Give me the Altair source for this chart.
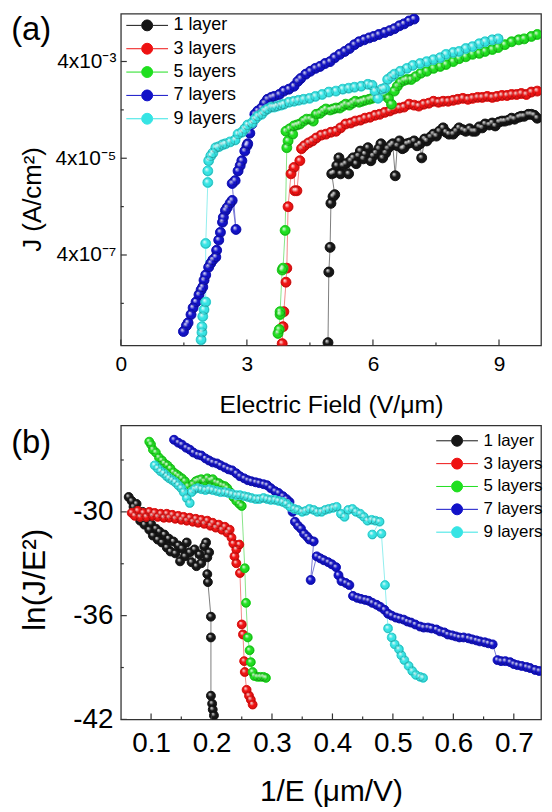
import altair as alt
import pandas as pd

FONT = "Liberation Sans"
SERIES = ["1 layer", "3 layers", "5 layers", "7 layers", "9 layers"]
BALL = ["#161616", "#ee1212", "#1fdf1f", "#1212c8", "#36e4e4"]
LINE = ["#6e6e6e", "#f07a7a", "#7ae27a", "#6a6ad0", "#86ecec"]
PANEL_LABELS = ["(a)", "(b)"]

# ---------------- panel (a): E (V/um) vs log10 J (A/cm2) ----------------
E1a = [4.93,4.95,4.98,5.00,5.05,5.09,5.02,5.07,5.14,5.19,5.23,5.28,5.35,5.42,5.47,5.53,5.60,5.65,5.70,5.77,5.81,5.88,5.95,6.00,6.07,6.14,6.19,6.23,6.30,6.35,6.42,6.47,6.53,6.58,6.63,6.70,6.74,6.81,6.88,6.98,7.05,7.12,7.16,7.23,7.28,7.37,7.44,7.51,7.58,7.67,7.74,7.81,7.91,7.98,8.05,8.14,8.21,8.30,8.37,8.44,8.53,8.60,8.67,8.77,8.84,8.91,9.00,9.07,9.14,9.23,9.30,9.37,9.47,9.53,9.60,9.70,9.77,9.84,9.91]
logJ1a = [-8.21,-6.75,-6.24,-5.33,-5.19,-5.15,-4.72,-4.70,-4.55,-4.39,-4.72,-4.55,-4.51,-4.72,-4.45,-4.39,-4.51,-4.35,-4.25,-4.41,-4.31,-4.18,-4.45,-4.35,-4.29,-4.20,-4.10,-4.39,-4.29,-4.20,-4.14,-4.10,-4.76,-4.14,-4.04,-4.20,-4.18,-4.10,-4.08,-4.04,-4.14,-4.10,-4.39,-4.00,-4.04,-3.96,-3.90,-3.94,-3.84,-3.77,-3.86,-3.90,-3.90,-3.84,-3.77,-3.81,-3.84,-3.79,-3.84,-3.84,-3.75,-3.77,-3.69,-3.71,-3.67,-3.73,-3.65,-3.63,-3.63,-3.61,-3.57,-3.59,-3.55,-3.53,-3.53,-3.49,-3.49,-3.51,-3.57]

E3a = [3.84,3.86,3.88,3.93,3.95,3.98,4.05,4.12,4.14,4.19,4.26,4.30,4.37,4.47,4.56,4.65,4.77,4.88,5.00,5.12,5.23,5.35,5.47,5.58,5.70,5.81,5.93,6.05,6.16,6.28,6.40,6.51,6.63,6.74,6.86,6.98,7.09,7.21,7.33,7.44,7.56,7.67,7.79,7.91,8.02,8.14,8.26,8.37,8.49,8.60,8.72,8.84,8.95,9.07,9.19,9.30,9.42,9.53,9.65,9.77,9.91]
logJ3a = [-8.23,-7.88,-7.57,-6.96,-6.67,-5.40,-4.72,-4.59,-5.07,-5.07,-4.45,-4.20,-4.14,-4.08,-4.04,-3.98,-3.92,-3.90,-3.86,-3.84,-3.77,-3.69,-3.67,-3.63,-3.61,-3.57,-3.55,-3.51,-3.49,-3.45,-3.42,-3.38,-3.36,-3.34,-3.28,-3.30,-3.32,-3.28,-3.26,-3.22,-3.24,-3.22,-3.22,-3.20,-3.18,-3.16,-3.18,-3.16,-3.14,-3.14,-3.12,-3.14,-3.12,-3.10,-3.10,-3.08,-3.08,-3.06,-3.08,-3.03,-3.01]

E5a = [3.74,3.77,3.79,3.79,3.84,3.86,3.91,3.95,3.93,3.98,4.02,4.09,4.12,4.19,4.26,4.35,4.42,4.51,4.58,4.65,4.74,4.81,4.88,4.98,5.05,5.12,5.21,5.28,5.35,5.44,5.51,5.58,5.67,5.74,5.81,5.91,5.98,6.05,6.14,6.21,6.28,6.37,6.44,6.51,6.58,6.65,6.74,6.81,6.91,7.02,7.14,7.28,7.44,7.60,7.74,7.91,8.05,8.21,8.37,8.53,8.67,8.84,8.98,9.14,9.30,9.47,9.60,9.77,9.91]
logJ5a = [-8.02,-7.94,-7.63,-7.57,-6.71,-6.67,-5.89,-4.18,-3.84,-4.04,-3.79,-3.90,-3.73,-3.71,-3.69,-3.63,-3.59,-3.59,-3.63,-3.49,-3.47,-3.42,-3.38,-3.40,-3.38,-3.36,-3.36,-3.32,-3.28,-3.30,-3.26,-3.22,-3.24,-3.22,-3.20,-3.18,-3.16,-3.14,-3.12,-3.10,-3.08,-3.16,-3.28,-3.01,-2.91,-2.83,-2.79,-2.77,-2.77,-2.71,-2.64,-2.60,-2.54,-2.50,-2.46,-2.40,-2.34,-2.30,-2.25,-2.23,-2.19,-2.15,-2.11,-2.05,-1.99,-1.95,-1.93,-1.88,-1.84]

E7a = [1.49,1.56,1.60,1.67,1.72,1.79,1.86,1.91,1.95,1.98,2.02,2.09,2.14,2.19,2.26,2.28,2.33,2.37,2.42,2.44,2.49,2.53,2.60,2.65,2.74,2.65,2.72,2.79,2.84,2.88,2.95,3.00,3.02,3.07,3.12,3.19,3.26,3.35,3.42,3.49,3.58,3.65,3.77,3.88,4.00,4.12,4.21,4.28,4.40,4.51,4.63,4.74,4.86,4.98,5.09,5.21,5.33,5.44,5.56,5.67,5.79,5.91,6.02,6.14,6.28,6.40,6.51,6.63,6.74,6.86,6.98]
logJ7a = [-7.98,-7.86,-7.80,-7.63,-7.49,-7.37,-7.22,-7.12,-7.06,-6.92,-6.81,-6.65,-6.57,-6.50,-6.44,-6.30,-6.09,-5.93,-5.72,-5.62,-5.48,-5.42,-5.33,-5.27,-5.87,-4.92,-4.86,-4.66,-4.55,-4.45,-4.25,-4.14,-4.10,-3.88,-3.69,-3.49,-3.42,-3.36,-3.26,-3.18,-3.14,-3.12,-3.08,-3.01,-2.97,-2.91,-2.81,-2.75,-2.66,-2.60,-2.54,-2.50,-2.44,-2.40,-2.32,-2.25,-2.19,-2.13,-2.05,-1.99,-1.95,-1.91,-1.88,-1.84,-1.80,-1.76,-1.72,-1.66,-1.62,-1.56,-1.52]

E9a = [1.91,1.93,1.93,1.95,1.98,2.02,2.02,2.07,2.07,2.09,2.14,2.19,2.26,2.33,2.42,2.49,2.60,2.72,2.79,2.88,2.95,3.02,3.12,3.19,3.26,3.35,3.42,3.49,3.58,3.65,3.72,3.81,3.88,4.00,4.12,4.23,4.35,4.49,4.63,4.79,4.95,5.12,5.28,5.42,5.56,5.72,5.88,5.98,6.05,6.12,6.21,6.28,6.35,6.44,6.51,6.65,6.81,6.95,7.12,7.28,7.44,7.60,7.74,7.91,8.05,8.21,8.37,8.53,8.67,8.84,8.98]
logJ9a = [-8.15,-8.00,-7.88,-7.67,-7.53,-7.37,-6.16,-4.90,-4.66,-4.45,-4.35,-4.29,-4.18,-4.16,-4.12,-4.10,-4.06,-4.02,-3.90,-3.86,-3.79,-3.71,-3.67,-3.59,-3.53,-3.49,-3.42,-3.38,-3.34,-3.34,-3.32,-3.30,-3.28,-3.24,-3.22,-3.20,-3.18,-3.16,-3.12,-3.08,-3.03,-3.01,-2.97,-2.95,-2.93,-2.91,-2.87,-2.89,-3.01,-3.16,-2.97,-2.95,-2.77,-2.71,-2.66,-2.60,-2.54,-2.48,-2.44,-2.40,-2.36,-2.32,-2.25,-2.21,-2.19,-2.13,-2.09,-2.03,-1.99,-1.95,-1.93]

# ---------------- panel (b): 1/E (um/V) vs ln(J/E^2) ----------------
R1b = [0.063,0.068,0.071,0.076,0.078,0.082,0.086,0.089,0.094,0.097,0.100,0.103,0.108,0.111,0.114,0.118,0.122,0.126,0.129,0.132,0.137,0.140,0.145,0.148,0.151,0.156,0.159,0.164,0.167,0.172,0.175,0.180,0.183,0.188,0.191,0.193,0.196,0.193,0.194,0.199,0.199,0.199,0.201,0.202,0.204]
L1b = [-29.14,-29.37,-29.71,-29.54,-30.11,-30.51,-30.00,-30.74,-30.40,-31.03,-30.69,-31.37,-30.97,-31.60,-31.14,-31.77,-31.31,-32.06,-31.54,-32.29,-31.71,-32.40,-31.94,-32.86,-32.11,-32.57,-31.77,-32.34,-32.91,-32.17,-33.14,-32.46,-32.97,-32.00,-31.77,-32.63,-32.34,-33.60,-34.06,-36.06,-37.26,-40.63,-41.09,-41.43,-41.77]

R3b = [0.068,0.073,0.078,0.082,0.087,0.092,0.097,0.102,0.106,0.111,0.116,0.121,0.126,0.130,0.135,0.140,0.145,0.150,0.154,0.159,0.164,0.169,0.174,0.178,0.183,0.188,0.193,0.198,0.202,0.207,0.212,0.217,0.222,0.226,0.230,0.233,0.236,0.241,0.246,0.238,0.241,0.247,0.250,0.252,0.254,0.255,0.258,0.262,0.265,0.268]
L3b = [-30.06,-30.23,-29.94,-30.29,-30.06,-30.29,-30.00,-30.23,-30.06,-30.29,-30.11,-30.34,-30.11,-30.34,-30.17,-30.40,-30.23,-30.46,-30.29,-30.51,-30.34,-30.57,-30.40,-30.63,-30.46,-30.69,-30.51,-30.80,-30.63,-30.91,-30.74,-31.03,-30.86,-31.20,-31.03,-31.49,-31.83,-32.17,-31.89,-32.57,-32.97,-33.54,-36.51,-37.09,-38.63,-39.26,-40.29,-40.63,-40.86,-41.14]

R5b = [0.097,0.100,0.103,0.108,0.113,0.118,0.122,0.127,0.132,0.137,0.142,0.146,0.151,0.156,0.161,0.166,0.169,0.174,0.178,0.183,0.188,0.193,0.198,0.202,0.207,0.212,0.217,0.222,0.226,0.231,0.236,0.241,0.246,0.250,0.255,0.257,0.260,0.263,0.265,0.268,0.271,0.276,0.281,0.286,0.290]
L5b = [-25.94,-26.11,-26.40,-26.57,-26.86,-27.03,-27.20,-27.31,-27.49,-27.71,-27.83,-27.94,-28.06,-28.23,-28.51,-28.74,-28.40,-28.23,-28.17,-28.11,-28.23,-28.06,-28.17,-28.11,-28.29,-28.34,-28.46,-28.51,-28.63,-28.86,-29.14,-29.37,-29.54,-29.66,-33.26,-35.26,-37.26,-38.00,-38.69,-39.26,-39.49,-39.54,-39.54,-39.54,-39.60]

R7b = [0.138,0.145,0.151,0.158,0.164,0.170,0.177,0.183,0.190,0.196,0.202,0.209,0.215,0.222,0.228,0.234,0.241,0.247,0.254,0.260,0.266,0.273,0.279,0.286,0.292,0.298,0.305,0.311,0.318,0.324,0.329,0.334,0.338,0.343,0.348,0.353,0.358,0.362,0.369,0.364,0.374,0.380,0.386,0.393,0.399,0.406,0.410,0.415,0.422,0.428,0.434,0.441,0.447,0.454,0.460,0.466,0.473,0.479,0.486,0.492,0.498,0.505,0.511,0.518,0.524,0.530,0.537,0.545,0.551,0.558,0.564,0.572,0.578,0.585,0.591,0.598,0.604,0.610,0.617,0.625,0.631,0.638,0.644,0.652,0.658,0.665,0.673,0.679,0.686,0.694,0.700,0.706,0.713,0.721,0.727,0.735,0.742]
L7b = [-25.83,-26.00,-26.11,-26.29,-26.40,-26.57,-26.69,-26.74,-26.91,-27.03,-27.14,-27.20,-27.31,-27.43,-27.54,-27.60,-27.77,-27.94,-28.06,-28.17,-28.23,-28.29,-28.34,-28.40,-28.46,-28.63,-28.80,-28.91,-29.09,-29.26,-29.43,-30.00,-30.57,-30.80,-30.97,-31.26,-31.43,-31.60,-31.71,-33.94,-32.57,-32.69,-32.80,-32.91,-33.03,-33.20,-33.66,-34.00,-34.11,-34.23,-34.86,-34.97,-35.03,-35.09,-35.14,-35.26,-35.37,-35.49,-35.66,-35.89,-36.00,-36.11,-36.17,-36.23,-36.34,-36.40,-36.51,-36.63,-36.69,-36.69,-36.74,-36.80,-36.91,-36.97,-37.09,-37.14,-37.20,-37.26,-37.26,-37.31,-37.37,-37.43,-37.49,-37.54,-37.60,-37.66,-38.57,-38.63,-38.63,-38.69,-38.80,-38.86,-38.91,-38.97,-39.03,-39.14,-39.20]

R9b = [0.106,0.111,0.116,0.121,0.126,0.130,0.135,0.140,0.145,0.150,0.154,0.159,0.164,0.167,0.172,0.177,0.183,0.190,0.196,0.202,0.209,0.215,0.222,0.228,0.234,0.241,0.247,0.254,0.260,0.266,0.273,0.279,0.286,0.292,0.298,0.305,0.311,0.318,0.324,0.330,0.337,0.343,0.350,0.356,0.362,0.369,0.375,0.382,0.388,0.394,0.401,0.407,0.414,0.420,0.426,0.433,0.439,0.446,0.452,0.458,0.465,0.471,0.478,0.466,0.481,0.487,0.492,0.498,0.503,0.510,0.514,0.519,0.526,0.532,0.538,0.545,0.550]
L9b = [-27.31,-27.49,-27.66,-27.77,-27.94,-28.06,-28.17,-28.29,-28.46,-28.63,-28.86,-29.20,-29.49,-28.86,-28.69,-28.63,-28.69,-28.74,-28.69,-28.74,-28.80,-28.86,-28.86,-28.91,-28.97,-29.03,-29.03,-29.09,-29.14,-29.20,-29.26,-29.26,-29.20,-29.26,-29.31,-29.31,-29.37,-29.43,-29.54,-29.71,-29.83,-29.89,-30.00,-29.94,-29.83,-29.89,-30.00,-30.00,-29.89,-29.83,-29.77,-29.71,-30.11,-30.29,-29.89,-29.83,-30.00,-30.11,-30.29,-30.51,-30.46,-30.51,-30.57,-31.31,-31.26,-34.23,-36.74,-37.26,-37.66,-37.94,-38.29,-38.57,-38.91,-39.20,-39.43,-39.54,-39.60]

# ---------------- axis ticks / labels ----------------
XA_MAJOR = [0, 3, 6, 9]
XA_MINOR = [1.5, 4.5, 7.5]
YA_MAJOR = [4e-7, 4e-5, 4e-3]
YA_MINOR = [4e-8, 4e-6, 4e-4]
YA_TEXT = ["4x10\u207b\u2077", "4x10\u207b\u2075", "4x10\u207b\u00b3"]
XB_MAJOR = [0.1, 0.2, 0.3, 0.4, 0.5, 0.6, 0.7]
XB_MINOR = [0.15, 0.25, 0.35, 0.45, 0.55, 0.65]
YB_MAJOR = [-42, -36, -30]
YB_MINOR = [-39, -33, -27]


def build(series_list, xname, yname, ylog):
    rows = []
    for name, (xs, ys) in zip(SERIES, series_list):
        assert len(xs) == len(ys), name
        for i, (xv, yv) in enumerate(zip(xs, ys)):
            rows.append({"series": name, xname: xv, yname: (10 ** yv) if ylog else yv, "idx": i})
    return pd.DataFrame(rows)


dfa = build([(E1a, logJ1a), (E3a, logJ3a), (E5a, logJ5a), (E7a, logJ7a), (E9a, logJ9a)], "E", "J", True)
dfb = build([(R1b, L1b), (R3b, L3b), (R5b, L5b), (R7b, L7b), (R9b, L9b)], "R", "L", False)

SHINE = {
    "gradient": "radial", "x1": 0.34, "y1": 0.3, "r1": 0, "x2": 0.5, "y2": 0.5, "r2": 0.5,
    "stops": [
        {"offset": 0, "color": "rgba(255,255,255,0.95)"},
        {"offset": 0.2, "color": "rgba(255,255,255,0.6)"},
        {"offset": 0.5, "color": "rgba(255,255,255,0)"},
        {"offset": 0.8, "color": "rgba(0,0,0,0)"},
        {"offset": 1, "color": "rgba(0,0,0,0.3)"},
    ],
}
SYM = "M-2.1,0L-0.55,0M0.55,0L2.1,0M0.55,0A0.55,0.55,0,1,1,-0.55,0A0.55,0.55,0,1,1,0.55,0Z"


def legend(lx, ly, fs, rp):
    return alt.Legend(title=None, orient="none", legendX=lx, legendY=ly, symbolType=SYM,
                      symbolSize=400, symbolStrokeWidth=1, labelFontSize=fs, labelFont=FONT,
                      labelColor="black", labelOffset=16, rowPadding=rp, padding=0)


def panel(df, xf, yf, xscale, yscale, xaxis, yaxis, size, leg, ticks, W, H, label, lab_dx, lab_dy):
    def X():
        return alt.X(f"{xf}:Q", scale=xscale, axis=xaxis)

    def Y():
        return alt.Y(f"{yf}:Q", scale=yscale, axis=yaxis)

    base = alt.Chart(df)
    layers = []
    for s, lc in zip(SERIES, LINE):
        layers.append(base.transform_filter(alt.datum.series == s)
                      .mark_line(strokeWidth=0.9, color=lc, clip=True)
                      .encode(x=X(), y=Y(), order="idx:Q"))
    sc = alt.Scale(domain=SERIES, range=BALL)
    for s in SERIES:
        sub = base.transform_filter(alt.datum.series == s)
        layers.append(sub.mark_point(filled=True, opacity=1, strokeWidth=1, clip=True).encode(
            x=X(), y=Y(),
            fill=alt.Fill("series:N", scale=sc, legend=leg),
            stroke=alt.Stroke("series:N", scale=sc, legend=leg),
            size=alt.value(size)))
        layers.append(sub.mark_circle(fill=SHINE, opacity=1, clip=True).encode(
            x=X(), y=Y(), size=alt.value(size)))
    (xmaj, xmin, ymaj, ymin) = ticks
    for vals, ln in ((xmaj, 6), (xmin, 3)):
        layers.append(alt.Chart(pd.DataFrame({xf: vals})).mark_rule(color="#333333", strokeWidth=1.2).encode(
            x=X(), y=alt.value(H), y2=alt.value(H - ln)))
    for vals, ln in ((ymaj, 6), (ymin, 3)):
        layers.append(alt.Chart(pd.DataFrame({yf: vals})).mark_rule(color="#333333", strokeWidth=1.2).encode(
            y=Y(), x=alt.value(0), x2=alt.value(ln)))
    layers.append(alt.Chart(pd.DataFrame({"label": [label]})).mark_text(
        align="left", baseline="top", fontSize=33, font=FONT, color="black").encode(
        x=alt.value(lab_dx), y=alt.value(lab_dy), text="label:N"))
    return alt.layer(*layers).properties(width=W, height=H)


exprA = f"'{YA_TEXT[-1]}'"
for v, t, vn in reversed(list(zip(YA_MAJOR[:-1], YA_TEXT[:-1], YA_MAJOR[1:]))):
    exprA = f"datum.value < {(v * vn) ** 0.5:.3g} ? '{t}' : ({exprA})"

common = dict(ticks=False, tickSize=0, domain=False, grid=False, labelColor="black",
              titleColor="black", titleFontWeight="normal", labelFont=FONT, titleFont=FONT)

xaxis_a = alt.Axis(values=XA_MAJOR, labelFontSize=21, labelPadding=8, labelFlush=False,
                   title="Electric Field (V/\u03bcm)", titleFontSize=25, titleY=48,
                   titleBaseline="top", **common)
yaxis_a = alt.Axis(values=YA_MAJOR, labelExpr=exprA, labelFontSize=21, labelPadding=5,
                   title="J (A/cm\u00b2)", titleFontSize=26, titleAngle=270, titleX=-81,
                   titleY=186.5, titleAlign="center", titleBaseline="alphabetic", **common)
xaxis_b = alt.Axis(values=XB_MAJOR, labelExpr="format(datum.value, '.1f')", labelFontSize=28,
                   labelPadding=10, labelFlush=False, title="1/E (\u03bcm/V)", titleFontSize=30,
                   titleY=58, titleBaseline="top", **common)
yaxis_b = alt.Axis(values=YB_MAJOR, labelExpr="'' + datum.value", labelFontSize=28, labelPadding=8,
                   title="ln(J/E\u00b2)", titleFontSize=32, titleAngle=270, titleX=-77,
                   titleY=155, titleAlign="center", titleBaseline="alphabetic", **common)

pa = panel(dfa, "E", "J",
           alt.Scale(domain=[0, 10], nice=False, zero=False),
           alt.Scale(type="log", domain=[5.4e-9, 3.9e-2], nice=False),
           xaxis_a, yaxis_a, 100, legend(16, 1.3, 18, 3.5),
           (XA_MAJOR, XA_MINOR, YA_MAJOR, YA_MINOR), 423, 334, PANEL_LABELS[0], -110.4, 0.5)
pb = panel(dfb, "R", "L",
           alt.Scale(domain=[0.05, 0.745], nice=False, zero=False),
           alt.Scale(domain=[-42, -25], nice=False, zero=False),
           xaxis_b, yaxis_b, 80, legend(328, 5, 17, 4),
           (XB_MAJOR, XB_MINOR, YB_MAJOR, YB_MINOR), 423, 296, PANEL_LABELS[1], -110.4, 1.5)

chart = (alt.vconcat(pa, pb, spacing=5.5)
         .resolve_scale(fill="independent", stroke="independent")
         .resolve_legend(fill="independent", stroke="independent")
         .properties(padding={"left": 1.6, "top": 2, "right": 0, "bottom": 0})
         .configure_view(stroke="#333333", strokeWidth=1.3)
         .configure_legend(labelFont=FONT))

chart.save("out.html", embed_options={"renderer": "svg", "actions": False})
